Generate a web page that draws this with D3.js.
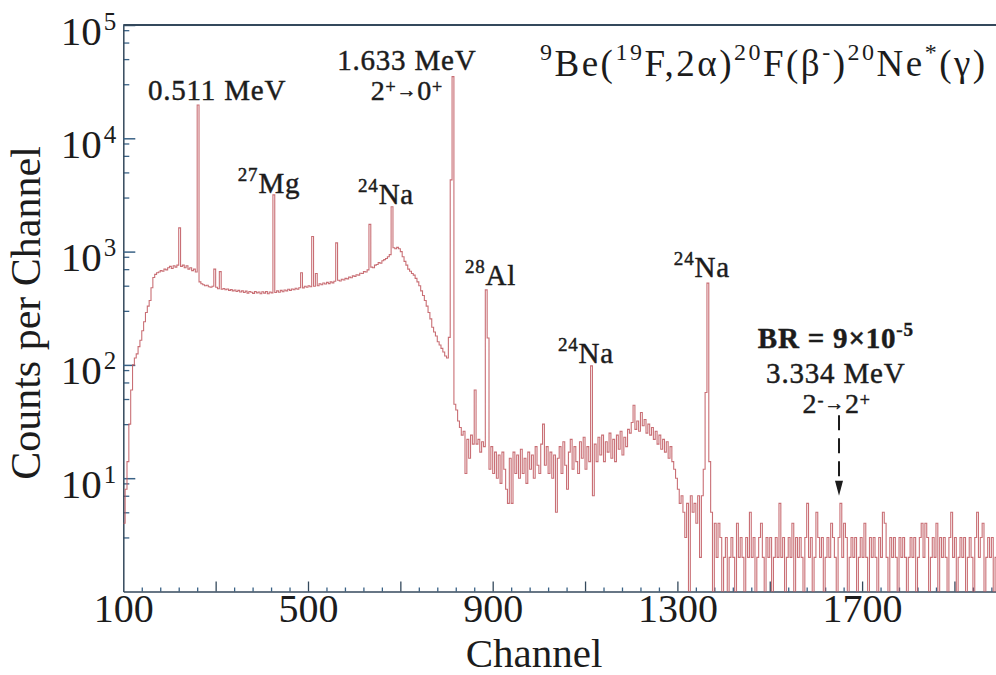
<!DOCTYPE html>
<html>
<head>
<meta charset="utf-8">
<script src="https://cdn.jsdelivr.net/npm/d3@7"></script>
<style>
  body { margin: 0; background: #fff; }
  svg text { font-family: "Liberation Serif", "Times New Roman", serif; fill: #1c1c1c; }
</style>
</head>
<body>
<svg id="chart"></svg>
<script>
// spectrum, 4 channels per bin starting at channel 100
const binWidth = 4;
const firstChannel = 100;

// channels 100 - 811 (continuum below the 1.633 MeV line)
const lowCounts = [
  4, 8, 14, 30, 60, 100, 115, 125, 145, 165,
  200, 240, 290, 330, 370, 480, 590, 630, 650, 660,
  680, 670, 700, 690, 720, 740, 710, 750, 730, 760,
  770, 740, 760, 720, 750, 700, 720, 680, 700, 660,
  600, 540, 520, 510, 500, 505, 490, 485, 495, 480,
  485, 470, 478, 465, 472, 460, 468, 455, 462, 450,
  458, 445, 455, 440, 450, 435, 448, 430, 445, 438,
  428, 445, 432, 440, 425, 442, 430, 445, 425, 440,
  432, 446, 435, 450, 438, 455, 442, 458, 450, 465,
  455, 468, 460, 475, 465, 480, 485, 478, 495, 485,
  500, 490, 505, 495, 512, 500, 520, 510, 528, 518,
  535, 522, 540, 530, 548, 538, 558, 550, 570, 562,
  580, 575, 595, 588, 610, 605, 625, 620, 645, 640,
  665, 660, 690, 700, 730, 720, 760, 770, 800, 790,
  830, 850, 870, 900, 940, 990, 1080, 1060, 1090, 1060,
  1000, 900, 820, 760, 700, 670, 640, 620, 580, 540,
  500, 450, 410, 370, 330, 290, 255, 215, 195, 180,
  160, 150, 140, 130, 120, 115, 175, 160
];

// channels 812 - 1375
const midCounts = [
  160, 45, 40, 32, 28, 24, 26, 11, 22, 15,
  24, 20, 23, 20, 22, 17, 21, 19, 22, 20,
  12, 19, 11, 17, 10, 16, 9, 17, 12, 8,
  6, 15, 6, 17, 11, 16, 10, 18, 11, 15,
  9, 17, 12, 16, 10, 19, 13, 11, 20, 30,
  13, 19, 11, 17, 10, 16, 5, 15, 19, 11,
  21, 13, 8, 17, 22, 12, 19, 14, 11, 21,
  15, 23, 12, 19, 14, 22, 7, 20, 14, 23,
  16, 24, 14, 21, 17, 25, 15, 22, 14, 24,
  18, 26, 16, 23, 19, 27, 25, 31, 44, 27,
  32, 26, 38, 29, 33, 25, 30, 24, 28, 22,
  26, 20, 24, 18, 22, 17, 21, 15, 19, 14,
  12, 10, 8, 6, 7, 5, 3, 6, 0, 7,
  5, 6, 4, 7, 2, 7, 12, 57, 30, 14,
  5
];

// channels 1376 - 1991
const tailCounts = [
  0, 4, 2, 4, 3, 0, 2, 3, 1, 2,
  3, 2, 0, 4, 2, 3, 2, 0, 3, 2,
  5, 2, 3, 0, 2, 3, 4, 2, 1, 3,
  2, 3, 0, 2, 3, 2, 6, 2, 3, 0,
  2, 3, 2, 4, 0, 3, 2, 3, 2, 0,
  3, 6, 2, 3, 0, 2, 5, 3, 2, 3,
  0, 2, 3, 2, 4, 3, 2, 0, 3, 6,
  2, 4, 3, 0, 2, 3, 2, 3, 0, 2,
  3, 2, 4, 2, 0, 3, 2, 3, 2, 0,
  3, 2, 5, 4, 2, 0, 3, 2, 3, 2,
  0, 3, 2, 3, 2, 0, 2, 3, 2, 3,
  0, 2, 3, 4, 2, 4, 3, 0, 2, 3,
  2, 4, 0, 3, 2, 3, 2, 0, 3, 5,
  2, 3, 0, 2, 3, 2, 3, 0, 2, 3,
  2, 0, 3, 5, 2, 3, 4, 0, 2, 3,
  2, 3, 0, 2
];

// narrow gamma lines: [channel, counts]
const peakLines = [
  [223, 1620], [260, 19700], [299, 700], [309, 665], [425, 3170],
  [486, 650], [508, 1360], [519, 640], [562, 1195], [634, 1740],
  [681, 2490], [810, 4300], [814, 35000], [860, 60], [884, 459],
  [888, 173], [1114, 98], [1367, 527]
];

const xTickLabels = [100, 500, 900, 1300, 1700];
const yTickLabels = [1e1, 1e2, 1e3, 1e4, 1e5];

const width = 996, height = 675;
const serif = '"Liberation Serif", "Times New Roman", serif';

const svg = d3.select('#chart').attr('width', width).attr('height', height)
  .attr('font-family', serif);

const x = d3.scaleLinear().domain([100, 1990]).range([123.3, 996]);
const y = d3.scaleLog().domain([1, 1e5]).range([591.5, 25]);

const axisColor = '#34495c';
const tickColor = '#3a6286';

// x axis: minor ticks every 40, mid ticks every 200, labels
const xMinor = d3.range(140, 1990, 40).filter(v => (v - 100) % 200 !== 0);
svg.append('g')
  .attr('transform', `translate(0,${y(1)})`)
  .call(d3.axisBottom(x).tickValues(xMinor).tickSizeInner(-4).tickSizeOuter(0).tickFormat(''))
  .call(g => g.select('.domain').remove())
  .call(g => g.selectAll('.tick line').attr('stroke', tickColor).attr('stroke-width', 1.3));

svg.append('g')
  .attr('transform', `translate(0,${y(1)})`)
  .call(d3.axisBottom(x).tickValues(d3.range(300, 1990, 200)).tickSizeInner(-10).tickSizeOuter(0).tickFormat(''))
  .call(g => g.select('.domain').remove())
  .call(g => g.selectAll('.tick line').attr('stroke', axisColor).attr('stroke-width', 1.3));

svg.append('g')
  .attr('transform', `translate(0,${y(1)})`)
  .call(d3.axisBottom(x).tickValues(xTickLabels).tickSize(0).tickPadding(6).tickFormat(d3.format('d')))
  .attr('font-family', serif)
  .call(g => g.select('.domain').attr('stroke', axisColor).attr('stroke-width', 1.5))
  .call(g => g.selectAll('.tick text')
    .attr('font-size', 40)
    .attr('font-family', serif)
    .attr('fill', '#1c1c1c')
    .attr('dy', '0.62em'));

// y axis
const yMinor = [];
[1, 10, 100, 1000, 10000].forEach(d => [3, 5, 7, 9].forEach(m => yMinor.push(m * d)));
svg.append('g')
  .attr('transform', `translate(${x(100)},0)`)
  .call(d3.axisLeft(y).tickValues(yMinor).tickSizeInner(-6).tickSizeOuter(0).tickFormat(''))
  .call(g => g.select('.domain').remove())
  .call(g => g.selectAll('.tick line').attr('stroke', tickColor).attr('stroke-width', 1.3));

svg.append('g')
  .attr('transform', `translate(${x(100)},0)`)
  .call(d3.axisLeft(y).tickValues(yTickLabels).tickSizeInner(-12).tickSizeOuter(0).tickPadding(7))
  .attr('font-family', serif)
  .call(g => g.select('.domain').attr('stroke', axisColor).attr('stroke-width', 1.5))
  .call(g => g.selectAll('.tick line').attr('stroke', tickColor).attr('stroke-width', 1.5))
  .call(g => g.selectAll('.tick text')
    .attr('font-family', serif)
    .attr('fill', '#1c1c1c')
    .attr('dy', 19)
    .text(null)
    .each(function(d) {
      const t = d3.select(this);
      t.append('tspan').attr('font-size', 41).text('10');
      t.append('tspan').attr('font-size', 25).attr('dx', 2).attr('dy', -15).text(Math.round(Math.log10(d)));
    }));

// top frame line
svg.append('line')
  .attr('x1', x(100)).attr('x2', width)
  .attr('y1', y(1e5)).attr('y2', y(1e5))
  .attr('stroke', axisColor).attr('stroke-width', 2);

// spectrum
const counts = lowCounts.concat(midCounts, tailCounts);
const bins = counts.map((c, i) => ({ ch: firstChannel + i * binWidth, c }));
peakLines.forEach(([ch, c]) => {
  const b = bins[Math.floor((ch - firstChannel) / binWidth)];
  b.c = Math.max(b.c, c);
});
bins.push({ ch: firstChannel + counts.length * binWidth, c: counts[counts.length - 1] });

svg.append('clipPath').attr('id', 'plot-clip')
  .append('rect')
  .attr('x', x(100)).attr('y', y(1e5))
  .attr('width', width - x(100)).attr('height', y(1) - y(1e5));

const line = d3.line()
  .x(d => x(d.ch))
  .y(d => y(Math.max(d.c, 1)))
  .curve(d3.curveStepAfter);

svg.append('path')
  .datum(bins)
  .attr('clip-path', 'url(#plot-clip)')
  .attr('fill', 'none')
  .attr('stroke', '#c0565d')
  .attr('stroke-width', 1.1)
  .attr('stroke-opacity', 0.85)
  .attr('d', line);

// axis titles
svg.append('text')
  .attr('x', 534).attr('y', 667)
  .attr('text-anchor', 'middle')
  .attr('font-family', serif)
  .attr('font-size', 41)
  .text('Channel');

svg.append('text')
  .attr('transform', 'translate(40,313) rotate(-90)')
  .attr('text-anchor', 'middle')
  .attr('font-family', serif)
  .attr('font-size', 42)
  .text('Counts per Channel');

// rich text helper: strings are normal, {sup: ''} raised, {small: ''} reduced
function rich(sel, parts, size, supRatio) {
  const supSize = Math.round(size * 0.66);
  const shift = Math.round(size * supRatio);
  let off = 0;
  parts.forEach(p => {
    let s = p, fs = size, target = 0;
    if (typeof p === 'object' && p.sup !== undefined) { s = p.sup; fs = supSize; target = -shift; }
    if (typeof p === 'object' && p.small !== undefined) { s = p.small; fs = Math.round(size * 0.7); target = -Math.round(size * 0.12); }
    sel.append('tspan').attr('font-size', fs).attr('dy', target - off).text(s);
    off = target;
  });
}

const labels = [
  { ch: 303, y: 100, anchor: 'middle', size: 29, parts: ['0.511 MeV'] },
  { ch: 348, y: 193, anchor: 'start', size: 29, parts: [{ sup: '27' }, 'Mg'] },
  { ch: 714, y: 70, anchor: 'middle', size: 29, parts: ['1.633 MeV'] },
  { ch: 714, y: 100, anchor: 'middle', size: 28, sup: 0.25, parts: ['2', { sup: '+' }, { small: '\u2192' }, '0', { sup: '+' }] },
  { ch: 669, y: 204, anchor: 'middle', size: 29, parts: [{ sup: '24' }, 'Na'] },
  { ch: 840, y: 285, anchor: 'start', size: 29, parts: [{ sup: '28' }, 'Al'] },
  { ch: 1102, y: 363, anchor: 'middle', size: 29, parts: [{ sup: '24' }, 'Na'] },
  { ch: 1353, y: 277, anchor: 'middle', size: 29, parts: [{ sup: '24' }, 'Na'] },
  { ch: 1643, y: 348, anchor: 'middle', size: 29, weight: 'bold', parts: ['BR = 9\u00d710', { sup: '-5' }] },
  { ch: 1643, y: 383, anchor: 'middle', size: 29, parts: ['3.334 MeV'] },
  { ch: 1645, y: 413, anchor: 'middle', size: 28, sup: 0.25, parts: ['2', { sup: '-' }, { small: '\u2192' }, '2', { sup: '+' }] },
  { ch: 1972, y: 76, anchor: 'end', size: 37, spacing: 2.5, heavy: 0,
    parts: [{ sup: '9' }, 'Be(', { sup: '19' }, 'F,2\u03b1)', { sup: '20' }, 'F(\u03b2', { sup: '-' }, ')', { sup: '20' }, 'Ne', { sup: '*' }, '(\u03b3)'] }
];

labels.forEach(l => {
  const t = svg.append('text')
    .attr('x', x(l.ch)).attr('y', l.y)
    .attr('text-anchor', l.anchor)
    .attr('font-family', serif)
    .attr('letter-spacing', l.spacing !== undefined ? l.spacing : 0.8)
    .attr('font-weight', l.weight || 'normal')
    .attr('stroke', '#1c1c1c')
    .attr('stroke-width', l.heavy !== undefined ? l.heavy : 0.45);
  rich(t, l.parts, l.size, l.sup || 0.42);
});

// dashed arrow to the 3.334 MeV position
const arrowCh = 1650;
svg.append('line')
  .attr('x1', x(arrowCh)).attr('x2', x(arrowCh))
  .attr('y1', y(36)).attr('y2', y(9))
  .attr('stroke', '#1c1c1c').attr('stroke-width', 2)
  .attr('stroke-dasharray', '15,8');
svg.append('path')
  .attr('d', d3.line()([[x(arrowCh) - 4, y(9.5)], [x(arrowCh) + 4, y(9.5)], [x(arrowCh), y(7)]]) + 'Z')
  .attr('fill', '#1c1c1c');
</script>
</body>
</html>
